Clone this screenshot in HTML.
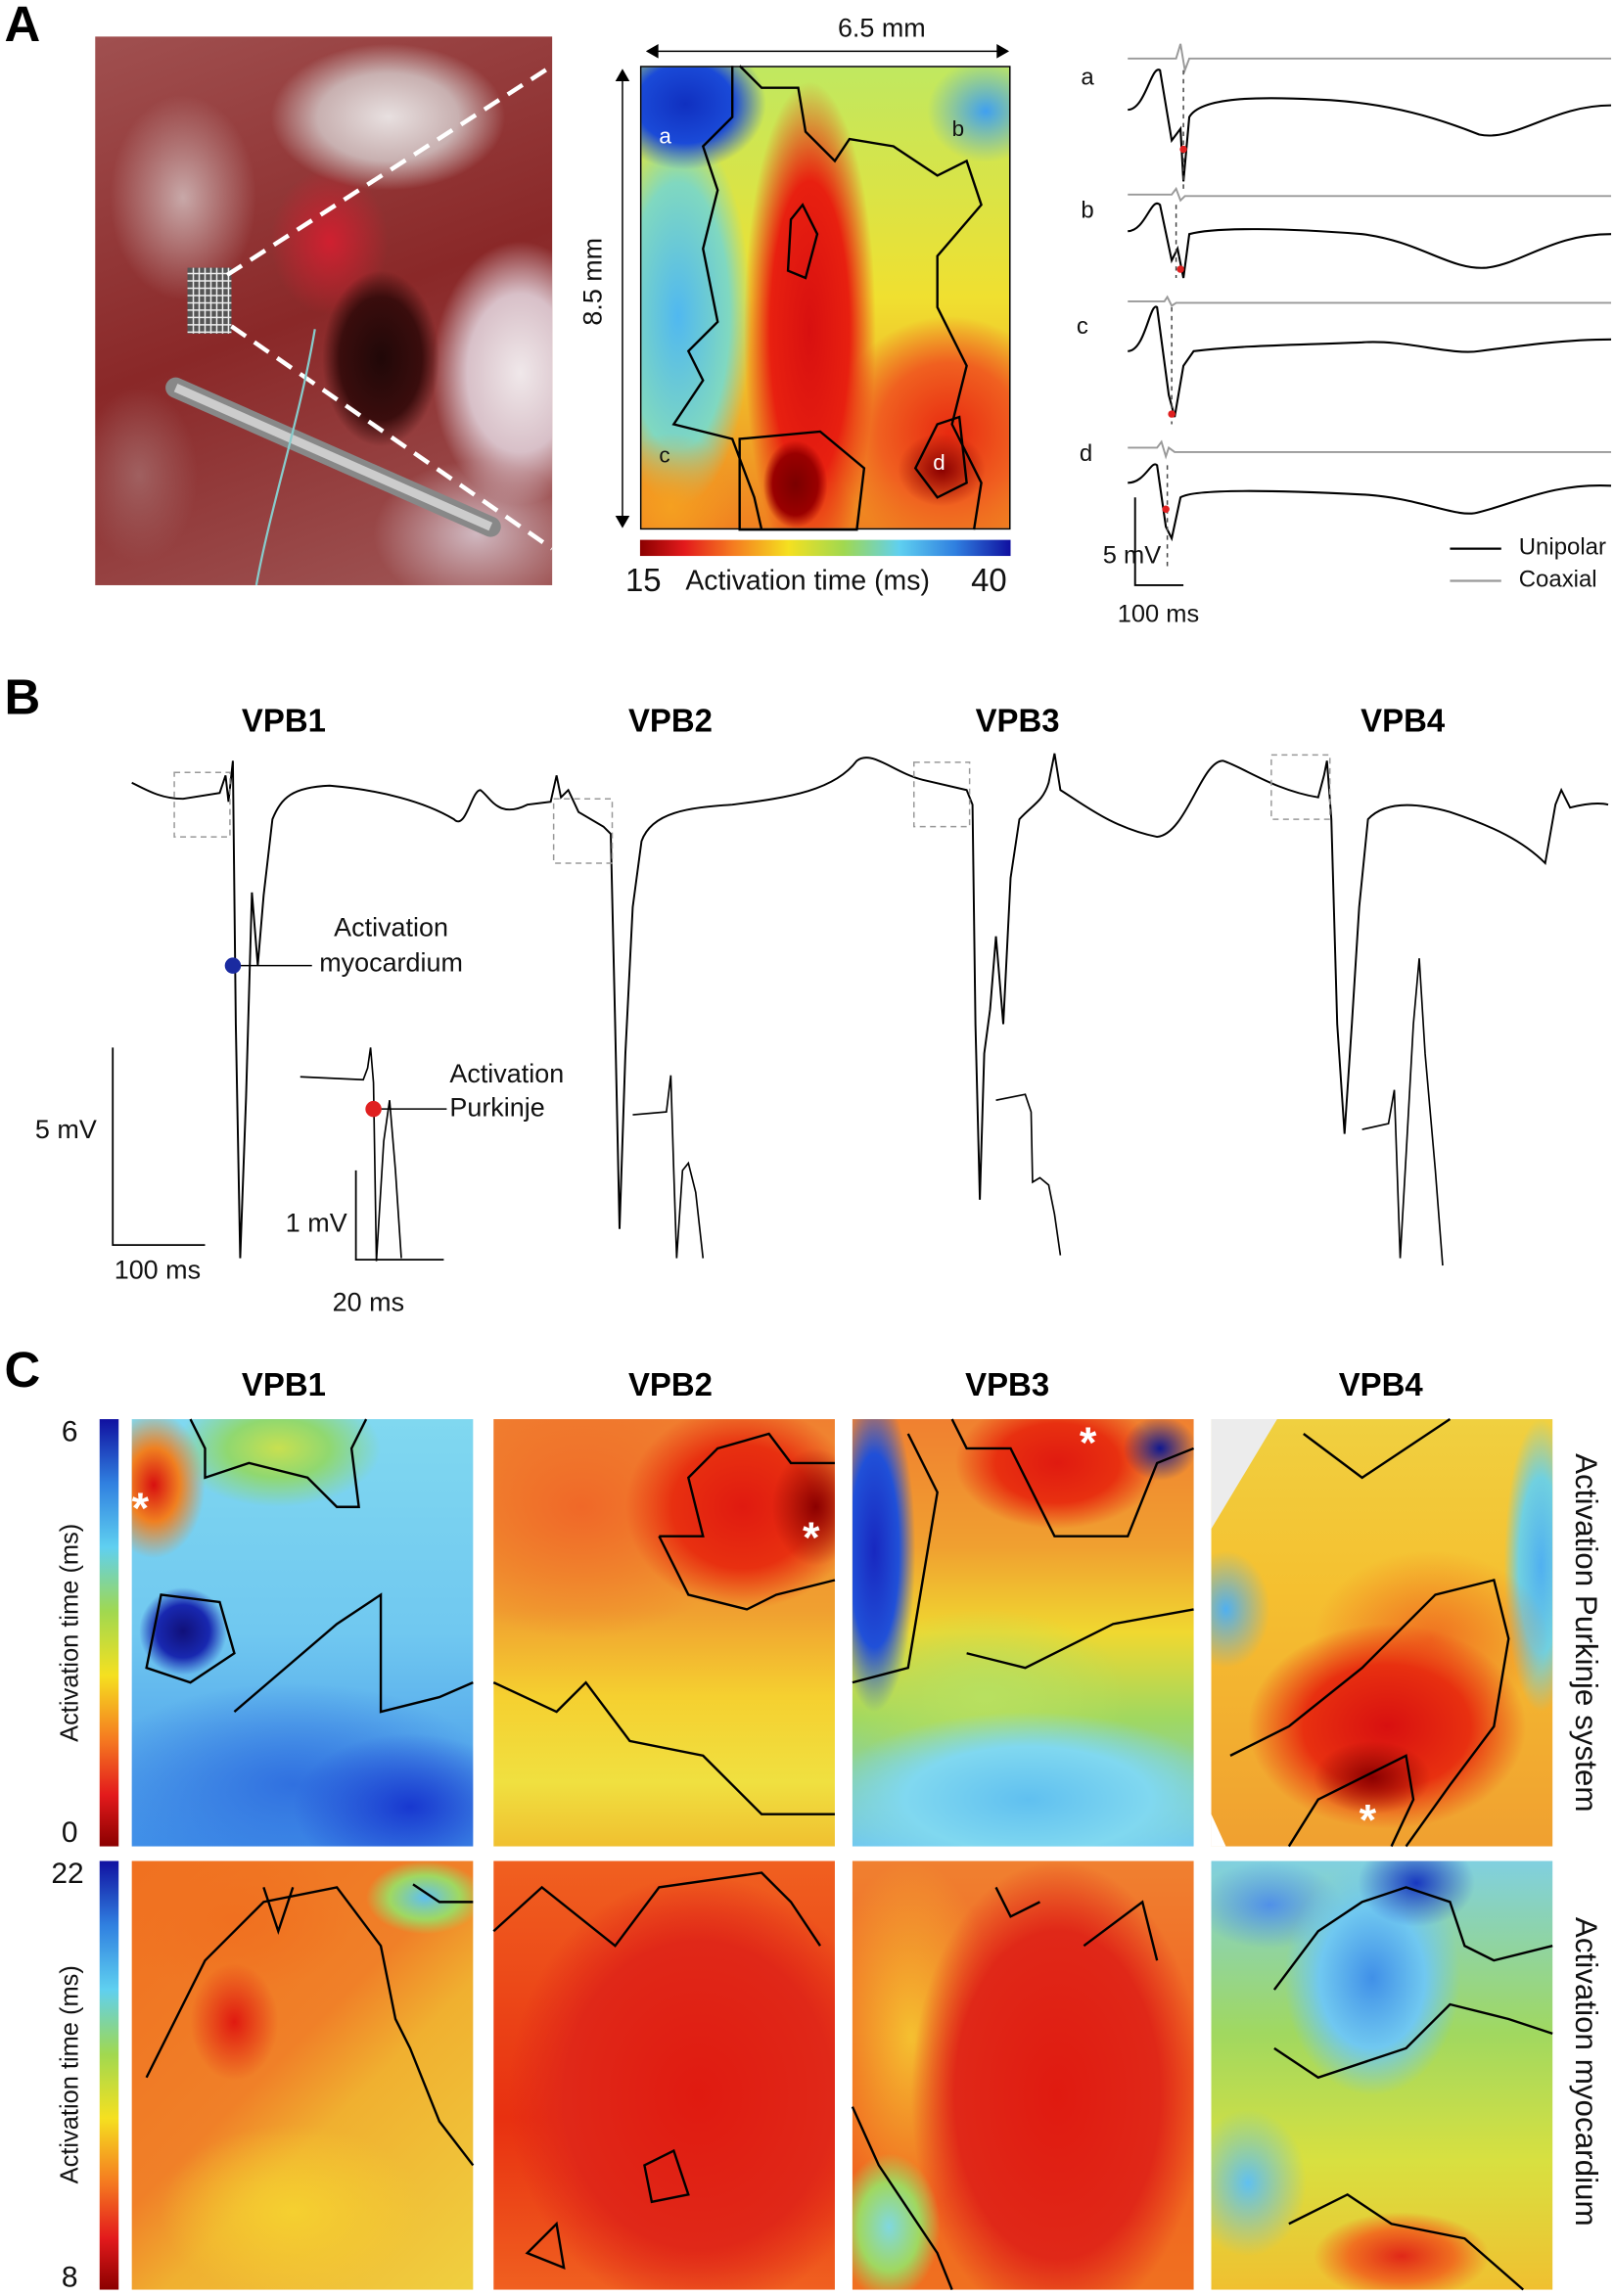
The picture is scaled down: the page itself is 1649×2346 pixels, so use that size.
<!DOCTYPE html>
<html><head><meta charset="utf-8"><style>
html,body{margin:0;padding:0;background:#fff;}
body{width:1649px;height:2344px;overflow:hidden;position:relative;font-family:"Liberation Sans",Arial,sans-serif;}
#w{position:absolute;left:0;top:0;width:1102px;height:1568px;transform:scale(1.4964,1.4949);transform-origin:0 0;}
.a{position:absolute;}
.t{position:absolute;font-size:18px;color:#111;white-space:nowrap;}
.L{position:absolute;font-weight:bold;font-size:34px;}
.h{position:absolute;font-weight:bold;font-size:22px;}
.m{position:absolute;border:1px solid #000;box-sizing:border-box;}
</style></head><body><div id="w">

<div class="L" style="left:3px;top:-2px">A</div>
<div class="L" style="left:3px;top:458px">B</div>
<div class="L" style="left:3px;top:918px">C</div>

<!-- photo -->
<div class="a" style="left:65px;top:25px;width:312px;height:375px;background:
radial-gradient(ellipse 40px 60px at 195px 220px,#200808 0%,#3a0d0d 70%,transparent 100%),
radial-gradient(ellipse 60px 90px at 290px 230px,#f0e8ea 0%,#d8c0c8 60%,transparent 100%),
radial-gradient(ellipse 80px 50px at 200px 55px,#e8e0e0 0%,#c8b0b0 60%,transparent 100%),
radial-gradient(ellipse 50px 70px at 60px 110px,#c8a8a8 0%,transparent 100%),
radial-gradient(ellipse 70px 50px at 260px 340px,#d0b8c0 0%,transparent 100%),
radial-gradient(ellipse 40px 50px at 160px 140px,#d02030 0%,transparent 100%),
radial-gradient(ellipse 40px 60px at 30px 300px,#a06060 0%,transparent 100%),
linear-gradient(160deg,#a05050,#8a2828 50%,#a05858);"></div>
<svg class="a" style="left:65px;top:25px" width="312" height="375">
<rect x="63" y="158" width="30" height="45" fill="#555"/>
<g stroke="#eee" stroke-width="1">
<path d="M63,162H93M63,167H93M63,172H93M63,177H93M63,182H93M63,187H93M63,192H93M63,197H93M63,202H93"/>
<path d="M67,158V203M71,158V203M75,158V203M79,158V203M83,158V203M87,158V203M91,158V203"/>
</g>
<path d="M90,163L312,20M93,198L312,350" stroke="#fff" stroke-width="3" stroke-dasharray="12,7" fill="none"/>
<path d="M55,240L270,335" stroke="#888" stroke-width="14" stroke-linecap="round"/>
<path d="M55,240L270,335" stroke="#ccc" stroke-width="6"/>
<path d="M150,200 C140,260 120,320 110,375" stroke="#8cc" stroke-width="1.5" fill="none"/>
</svg>

<!-- map A -->
<div class="m" style="left:437px;top:45px;width:253px;height:317px;background:
radial-gradient(ellipse 22px 30px at 105px 285px,#7a0000 0%,#9a0000 70%,transparent 100%),
radial-gradient(ellipse 45px 170px at 115px 180px,#d81010 0%,#e82010 60%,transparent 100%),
radial-gradient(ellipse 30px 25px at 205px 275px,#8a0000 0%,transparent 100%),
radial-gradient(ellipse 80px 80px at 210px 250px,#e82a10 0%,#f06020 60%,transparent 100%),
radial-gradient(ellipse 55px 45px at 30px 25px,#1030c0 0%,#1a4ad8 60%,transparent 100%),
radial-gradient(ellipse 40px 35px at 235px 30px,#40a0f0 0%,transparent 100%),
radial-gradient(ellipse 45px 50px at 20px 300px,#f5a020 0%,transparent 100%),
radial-gradient(ellipse 50px 130px at 25px 170px,#50b8f0 0%,#80d8c0 70%,transparent 100%),
linear-gradient(180deg,#c0e860,#f0e030 50%,#f08020);"></div>
<div class="t" style="left:450px;top:85px;color:#fff;font-size:15px">a</div>
<div class="t" style="left:650px;top:80px;color:#111;font-size:15px">b</div>
<div class="t" style="left:450px;top:303px;color:#111;font-size:15px">c</div>
<div class="t" style="left:637px;top:308px;color:#fff;font-size:15px">d</div>
<svg class="a" style="left:0;top:0" width="1102" height="430">
<path d="M442,35H688M442,35l7,-4v8zM688,35l-7,-4v8z" stroke="#000" fill="#000"/>
<path d="M425,48V360M425,48l-4,7h8zM425,360l-4,-7h8z" stroke="#000" fill="#000"/>
</svg>
<div class="t" style="left:572px;top:9px">6.5 mm</div>
<div class="t" style="left:375px;top:182px;transform:rotate(-90deg);transform-origin:center">8.5 mm</div>
<div class="a" style="left:437px;top:369px;width:253px;height:11px;background:linear-gradient(90deg,#8b0000,#e31a1c 12%,#f57a20 25%,#f5e020 40%,#a0d850 55%,#5fd0f0 70%,#3080e0 85%,#1010a0)"></div>
<div class="t" style="left:427px;top:384px;font-size:22px">15</div>
<div class="t" style="left:468px;top:387px;font-size:19px">Activation time (ms)</div>
<div class="t" style="left:663px;top:384px;font-size:22px">40</div>

<!-- A traces -->
<svg class="a" style="left:0;top:0" width="1102" height="430" fill="none">
<g stroke="#999" stroke-width="1.3">
<path d="M770,40H803l3,-10l3,18l3,-8H1100"/>
<path d="M770,133H800l3,-4l3,8l3,-3H1100"/>
<path d="M770,206H795l2,-3l3,6l3,-2H1100"/>
<path d="M770,306H790l3,-4l3,10l2,-6l4,3H1100"/>
</g>
<g stroke="#000" stroke-width="1.4">
<path d="M770,75C782,75 786,44 792,48L800,96L806,88L808,124L812,80C820,66 860,66 900,68C950,70 985,82 1010,92C1035,97 1060,72 1100,72"/>
<path d="M770,158C782,158 786,134 792,140L800,178L804,170L808,190L812,160C830,155 880,156 930,160C970,165 990,185 1015,183C1040,180 1060,160 1100,160"/>
<path d="M770,240C782,240 785,206 790,210L798,270L802,285L808,250L815,240C850,236 880,236 930,234C960,232 990,243 1010,240C1040,236 1070,232 1100,232"/>
<path d="M770,330C782,330 786,314 790,318L796,360L800,368L806,340C815,334 870,335 930,338C970,340 995,355 1010,350C1035,344 1060,330 1100,332"/>
</g>
<path d="M808,48V130M803,140V190M800,210V290M797,318V390" stroke="#444" stroke-dasharray="3,3"/>
<g fill="#e02020"><circle cx="808" cy="102" r="2.5"/><circle cx="806" cy="184" r="2.5"/><circle cx="800" cy="283" r="2.5"/><circle cx="796" cy="348" r="2.5"/></g>
<path d="M775,340V400H808" stroke="#000" stroke-width="1.3"/>
<path d="M990,375H1025" stroke="#000" stroke-width="1.5"/><path d="M990,397H1025" stroke="#999" stroke-width="1.5"/>
</svg>
<div class="t" style="left:738px;top:45px;font-size:16px">a</div>
<div class="t" style="left:738px;top:136px;font-size:16px">b</div>
<div class="t" style="left:735px;top:215px;font-size:16px">c</div>
<div class="t" style="left:737px;top:302px;font-size:16px">d</div>
<div class="t" style="left:753px;top:370px;font-size:17px">5 mV</div>
<div class="t" style="left:763px;top:410px;font-size:17px">100 ms</div>
<div class="t" style="left:1037px;top:366px;font-size:16px">Unipolar</div>
<div class="t" style="left:1037px;top:388px;font-size:16px">Coaxial</div>

<!-- B -->
<div class="h" style="left:165px;top:480px">VPB1</div>
<div class="h" style="left:429px;top:480px">VPB2</div>
<div class="h" style="left:666px;top:480px">VPB3</div>
<div class="h" style="left:929px;top:480px">VPB4</div>
<svg class="a" style="left:0;top:450px" width="1102" height="460" fill="none">
<g transform="translate(0,-450)">
<path stroke="#000" stroke-width="1.3" d="M90,535C100,540 110,546 125,546L150,542L154,530L156,548L159,520L161,700L164,860L168,750L172,610L176,660L180,612L186,560C192,545 200,538 225,537C260,540 290,548 310,560C318,568 322,540 328,540C335,545 340,560 360,550L376,548L380,530L383,545L388,540L395,555L412,565L417,570L420,700L423,840L427,720L432,620L438,575C445,555 470,552 500,550C540,545 570,540 585,520C595,512 610,528 630,533L660,540L664,550L666,700L669,820L672,720L676,690L680,640L685,700L690,600L696,560C705,550 712,548 716,535L720,515L724,540C740,550 760,566 790,572C810,570 820,520 835,520C850,525 870,540 900,545L904,530L906,520L909,560L913,700L918,775L923,700L928,620L934,560C945,548 965,548 990,555C1020,565 1040,575 1055,590L1062,550L1066,540L1072,552C1080,550 1090,548 1098,550"/>
<path stroke="#000" stroke-width="1.1" d="M205,736L248,738L251,730L253,716L255,740L257,862L262,780L266,752L270,800L274,860"/>
<path stroke="#000" stroke-width="1.1" d="M432,762L455,760L458,735L460,800L462,860L466,800L470,795L475,815L480,860"/>
<path stroke="#000" stroke-width="1.1" d="M680,752L700,748L704,760L705,808L710,805L716,810L720,830L724,858"/>
<path stroke="#000" stroke-width="1.1" d="M930,772L948,768L952,745L956,860L960,790L965,700L969,655L973,720L980,800L985,865"/>
<g stroke="#999" stroke-dasharray="4,3"><rect x="119" y="528" width="38" height="44"/><rect x="378" y="546" width="40" height="44"/><rect x="624" y="521" width="38" height="44"/><rect x="868" y="516" width="40" height="44"/></g>
<path stroke="#000" d="M159,660H213M255,758H305"/>
<circle cx="159" cy="660" r="5.5" fill="#1a2aa0"/><circle cx="255" cy="758" r="5.5" fill="#e02020"/>
<path stroke="#000" stroke-width="1.2" d="M77,716V851H140M243,800V861H303"/>
</g></svg>
<div class="t" style="left:228px;top:624px">Activation</div>
<div class="t" style="left:218px;top:648px">myocardium</div>
<div class="t" style="left:307px;top:724px">Activation</div>
<div class="t" style="left:307px;top:747px">Purkinje</div>
<div class="t" style="left:24px;top:762px">5 mV</div>
<div class="t" style="left:78px;top:858px">100 ms</div>
<div class="t" style="left:195px;top:826px">1 mV</div>
<div class="t" style="left:227px;top:880px">20 ms</div>

<!-- C -->
<div class="h" style="left:165px;top:934px">VPB1</div>
<div class="h" style="left:429px;top:934px">VPB2</div>
<div class="h" style="left:659px;top:934px">VPB3</div>
<div class="h" style="left:914px;top:934px">VPB4</div>
<div class="a" style="left:68px;top:970px;width:13px;height:292px;background:linear-gradient(0deg,#8b0000,#e31a1c 12%,#f57a20 25%,#f5e020 40%,#a0d850 55%,#5fd0f0 70%,#3080e0 85%,#1010a0)"></div>
<div class="a" style="left:68px;top:1272px;width:13px;height:293px;background:linear-gradient(0deg,#8b0000,#e31a1c 12%,#f57a20 25%,#f5e020 40%,#a0d850 55%,#5fd0f0 70%,#3080e0 85%,#1010a0)"></div>
<div class="t" style="left:42px;top:968px;font-size:20px">6</div>
<div class="t" style="left:42px;top:1242px;font-size:20px">0</div>
<div class="t" style="left:35px;top:1270px;font-size:20px">22</div>
<div class="t" style="left:42px;top:1546px;font-size:20px">8</div>
<div class="t" style="left:-42px;top:1106px;transform:rotate(-90deg);font-size:17px;width:180px;text-align:center">Activation time (ms)</div>
<div class="t" style="left:-42px;top:1408px;transform:rotate(-90deg);font-size:17px;width:180px;text-align:center">Activation time (ms)</div>
<div class="t" style="left:932px;top:1104px;transform:rotate(90deg);font-size:21px;width:300px;text-align:center">Activation Purkinje system</div>
<div class="t" style="left:932px;top:1404px;transform:rotate(90deg);font-size:21px;width:300px;text-align:center">Activation myocardium</div>

<!-- row1 -->
<div class="m" style="left:90px;top:970px;width:233px;height:292px;border:none;background:
radial-gradient(ellipse 30px 30px at 35px 145px,#10107a 0%,#1828b0 60%,transparent 100%),
radial-gradient(ellipse 80px 50px at 190px 265px,#1838d0 0%,transparent 100%),
radial-gradient(ellipse 35px 50px at 15px 45px,#d81010 0%,#f08020 50%,transparent 100%),
radial-gradient(ellipse 70px 40px at 100px 20px,#c8e050 0%,#90d870 50%,transparent 100%),
radial-gradient(ellipse 140px 70px at 110px 250px,#3070e0 0%,transparent 100%),
linear-gradient(180deg,#80d8f0,#70c8f0 50%,#4090e8);"></div>
<div class="m" style="left:337px;top:970px;width:233px;height:292px;border:none;background:
radial-gradient(ellipse 30px 40px at 220px 60px,#8b0000 0%,transparent 100%),
radial-gradient(ellipse 80px 70px at 170px 60px,#e01a10 0%,#e83010 60%,transparent 100%),
radial-gradient(ellipse 120px 90px at 60px 60px,#f06828 0%,transparent 100%),
linear-gradient(180deg,#f08030,#f0a030 45%,#f5d030 65%,#f0e040 85%,#f0c030);"></div>
<div class="m" style="left:582px;top:970px;width:233px;height:292px;border:none;background:
radial-gradient(ellipse 25px 22px at 210px 20px,#101890 0%,transparent 100%),
radial-gradient(ellipse 70px 45px at 140px 30px,#e01a10 0%,#e83010 60%,transparent 100%),
radial-gradient(ellipse 28px 110px at 15px 90px,#1828c0 0%,#2050d8 60%,transparent 100%),
radial-gradient(ellipse 140px 60px at 120px 260px,#60c0f0 0%,#80d8f0 60%,transparent 100%),
radial-gradient(ellipse 100px 60px at 90px 190px,#b8e060 0%,transparent 100%),
linear-gradient(180deg,#f08030,#f0a030 30%,#f0d830 50%,#a0d860 70%,#70c8f0);"></div>
<div class="m" style="left:827px;top:970px;width:233px;height:292px;border:none;background:
radial-gradient(ellipse 40px 25px at 110px 245px,#8b0000 0%,transparent 100%),
radial-gradient(ellipse 95px 70px at 120px 210px,#d81010 0%,#e83010 60%,transparent 100%),
radial-gradient(ellipse 80px 60px at 150px 150px,#f07020 0%,transparent 100%),
radial-gradient(ellipse 25px 100px at 225px 100px,#50b0f0 0%,#70d0e0 60%,transparent 100%),
radial-gradient(ellipse 30px 40px at 10px 130px,#50b0f0 0%,transparent 100%),
linear-gradient(180deg,#f0d040,#f5c030 40%,#f0a030);"></div>
<svg class="a" style="left:827px;top:970px" width="233" height="292"><path d="M0,0H45L0,75Z" fill="#ececec"/><path d="M0,270L10,292H0Z" fill="#fff"/></svg>
<div class="t" style="left:90px;top:1015px;color:#fff;font-size:30px;font-weight:bold">*</div>
<div class="t" style="left:548px;top:1035px;color:#fff;font-size:30px;font-weight:bold">*</div>
<div class="t" style="left:737px;top:970px;color:#fff;font-size:30px;font-weight:bold">*</div>
<div class="t" style="left:928px;top:1228px;color:#fff;font-size:30px;font-weight:bold">*</div>

<!-- row2 -->
<div class="m" style="left:90px;top:1272px;width:233px;height:293px;border:none;background:
radial-gradient(ellipse 40px 25px at 200px 25px,#60c0f0 0%,#a0d860 60%,transparent 100%),
radial-gradient(ellipse 30px 40px at 70px 110px,#e01a10 0%,transparent 100%),
radial-gradient(ellipse 80px 50px at 70px 40px,#f07020 0%,transparent 100%),
radial-gradient(ellipse 90px 60px at 110px 240px,#f5d030 0%,transparent 100%),
linear-gradient(135deg,#f07020,#f08028 45%,#f0b030 60%,#f0d040);"></div>
<div class="m" style="left:337px;top:1272px;width:233px;height:293px;border:none;background:
radial-gradient(ellipse 130px 150px at 140px 160px,#e01a10 0%,#e02818 70%,transparent 100%),
linear-gradient(180deg,#f06020,#e83010 60%,#f06020);"></div>
<div class="m" style="left:582px;top:1272px;width:233px;height:293px;border:none;background:
radial-gradient(ellipse 35px 50px at 25px 250px,#80d8e0 0%,#a0d860 60%,transparent 100%),
radial-gradient(ellipse 100px 160px at 140px 160px,#e01a10 0%,#e02818 70%,transparent 100%),
radial-gradient(ellipse 60px 120px at 40px 120px,#f5c030 0%,transparent 100%),
linear-gradient(180deg,#f08030,#f06020 50%,#f07020);"></div>
<div class="m" style="left:827px;top:1272px;width:233px;height:293px;border:none;background:
radial-gradient(ellipse 40px 30px at 140px 15px,#1838c0 0%,transparent 100%),
radial-gradient(ellipse 60px 80px at 110px 80px,#4090e8 0%,#70c8f0 60%,transparent 100%),
radial-gradient(ellipse 50px 30px at 40px 30px,#5090e8 0%,transparent 100%),
radial-gradient(ellipse 60px 30px at 130px 270px,#e02818 0%,#f07020 60%,transparent 100%),
radial-gradient(ellipse 40px 50px at 25px 220px,#60c0f0 0%,transparent 100%),
linear-gradient(180deg,#80d0e0,#a0d860 40%,#d8e040 70%,#f0c030);"></div>

<!-- contour hints -->
<svg class="a" style="left:0;top:0" width="1102" height="1568" fill="none" stroke="#000" stroke-width="1.6">
<path d="M505,45L520,60L545,60L550,90L570,110L580,95L610,100L640,120L660,110L670,140L640,175L640,210L660,250L650,290L670,330L665,362"/>
<path d="M500,45L500,80L480,100L490,130L480,170L490,220L470,240L480,260L460,290L500,300L515,340L520,362"/>
<path d="M540,150L548,140L558,160L550,190L538,185Z"/>
<path d="M505,300L560,295L590,320L585,362L505,362Z"/>
<path d="M640,290L655,285L660,330L640,340L625,320Z"/>
<path d="M130,970L140,990L140,1010L170,1000L210,1010L230,1030L245,1030L240,990L250,970"/>
<path d="M110,1090L150,1095L160,1130L130,1150L100,1140Z"/>
<path d="M160,1170L230,1110L260,1090L260,1170L300,1160L323,1150"/>
<path d="M337,1150L380,1170L400,1150L430,1190L480,1200L520,1240L570,1240"/>
<path d="M450,1050L480,1050L470,1010L490,990L525,980L540,1000L570,1000"/>
<path d="M450,1050L470,1090L510,1100L530,1090L570,1080"/>
<path d="M650,970L660,990L690,990L720,1050L770,1050L790,1000L815,990"/>
<path d="M620,980L640,1020L630,1080L620,1140L582,1150"/>
<path d="M660,1130L700,1140L760,1110L815,1100"/>
<path d="M840,1200L880,1180L930,1140L980,1090L1020,1080L1030,1120L1020,1180L990,1220L960,1262"/>
<path d="M880,1262L900,1230L960,1200L965,1230L950,1262"/>
<path d="M890,980L930,1010L990,970"/>
<path d="M100,1420L140,1340L180,1300L230,1290L260,1330L270,1380L280,1400L300,1450L323,1480"/>
<path d="M180,1290L190,1320L200,1290M282,1288L300,1300L323,1300"/>
<path d="M337,1320L370,1290L420,1330L450,1290L520,1280L540,1300L560,1330"/>
<path d="M440,1480L460,1470L470,1500L445,1505Z M360,1540L380,1520L385,1550Z"/>
<path d="M582,1440L600,1480L620,1510L640,1540L650,1565"/>
<path d="M680,1290L690,1310L710,1300M740,1330L780,1300L790,1340"/>
<path d="M870,1360L900,1320L930,1300L960,1290L990,1300L1000,1330L1020,1340L1060,1330"/>
<path d="M870,1400L900,1420L960,1400L990,1370L1030,1380L1060,1390"/>
<path d="M880,1520L920,1500L950,1520L1000,1530L1040,1565"/>
</svg>

</div></body></html>
